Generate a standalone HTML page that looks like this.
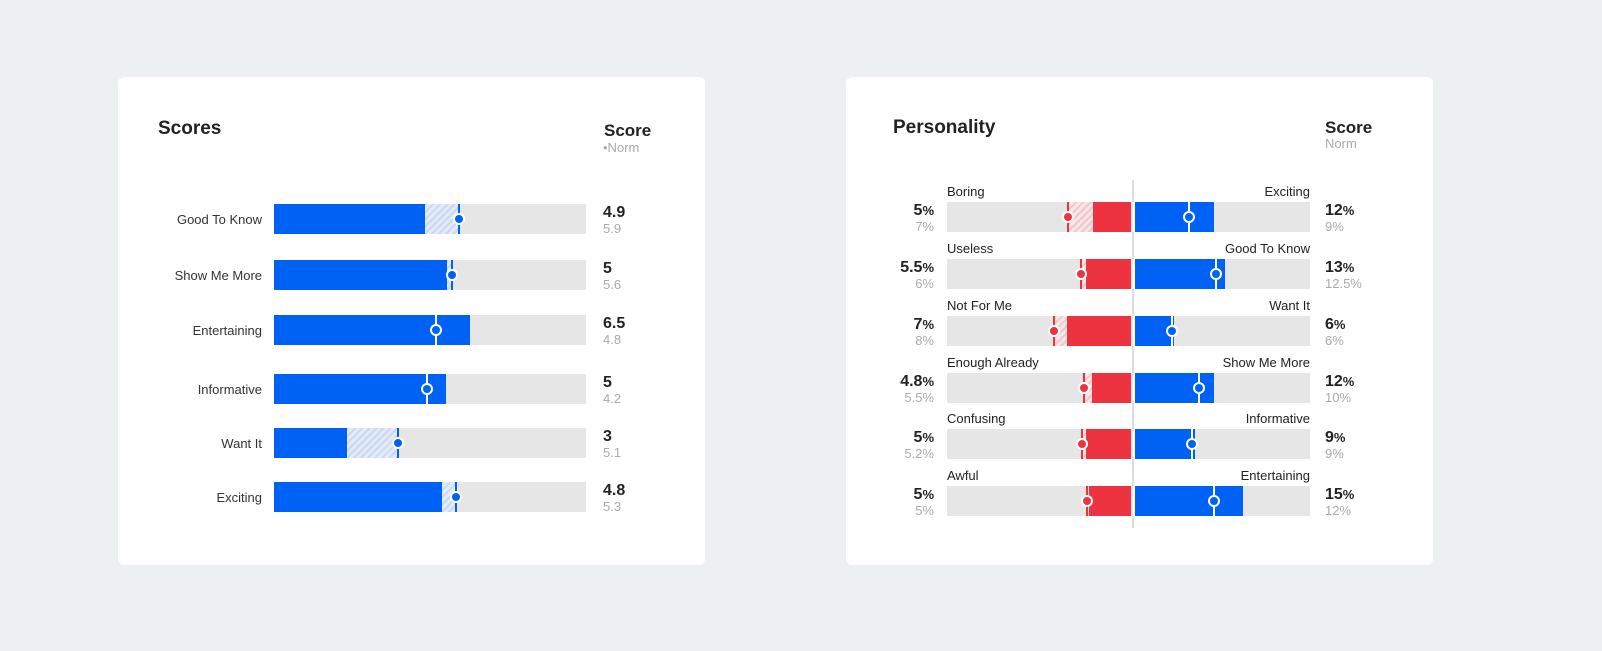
<!DOCTYPE html><html><head><style>
body{margin:0;width:1602px;height:651px;background:#edf0f1;font-family:"Liberation Sans",sans-serif;position:relative;overflow:hidden}
.card{position:absolute;background:#fff;border-radius:6px;top:77px;width:587px;height:488px}
.a{position:absolute}
.t{font-weight:bold;font-size:19px;color:#222}
.bar{position:absolute;height:30px;background:#e6e6e6}
.bl{position:absolute;top:0;height:30px;background:#0062f5}
.rd{position:absolute;top:0;height:30px;background:#ee3340}
.hb{position:absolute;top:0;height:30px;background:repeating-linear-gradient(135deg,#c9d8f2 0 2px,#e3ebf8 2px 5px)}
.hr{position:absolute;top:0;height:30px;background:repeating-linear-gradient(135deg,#f1c6c9 0 2px,#f9e6e7 2px 5px)}
.ln{position:absolute;top:0;width:2px;height:30px;margin-left:-1px}
.dot{position:absolute;top:9px;width:8px;height:8px;border-radius:50%;margin-left:-6px;border:2px solid #fff}
.lab{position:absolute;font-size:13px;color:#333;text-align:right;width:150px}
.v{position:absolute;font-size:16px;font-weight:bold;color:#222}
.n{position:absolute;font-size:13px;color:#aaa}
.pl{position:absolute;font-size:13px;color:#222}
.v small{font-size:13px}
</style></head><body>
<div class="card" style="left:118px"></div>
<div class="card" style="left:846px"></div>
<div class="a t" style="left:158px;top:118px">Scores</div>
<div class="a" style="left:604px;top:121px;font-weight:bold;font-size:17px;color:#222">Score</div>
<div class="a" style="left:603px;top:140px;font-size:13px;color:#aaa">&#8226;Norm</div>
<div class="a t" style="left:893px;top:117px">Personality</div>
<div class="a" style="left:1325px;top:118px;font-weight:bold;font-size:17px;color:#222">Score</div>
<div class="a" style="left:1325px;top:136px;font-size:13px;color:#aaa">Norm</div>
<div class="a" style="left:1132px;top:180px;width:2px;height:348px;background:#ddd"></div>
<div id="L"></div><div id="R"></div>
<script>
var L=[["Good To Know",204,425,459,1,"4.9","5.9"],["Show Me More",260,447,452,1,"5","5.6"],["Entertaining",315,470,436,0,"6.5","4.8"],["Informative",374,446,427,0,"5","4.2"],["Want It",428,347,398,1,"3","5.1"],["Exciting",482,442,456,1,"4.8","5.3"]];
var h="";
L.forEach(function(r){var y=r[1],x0=274;
h+='<div class="lab" style="left:112px;top:'+(y+8)+'px">'+r[0]+'</div>';
h+='<div class="bar" style="left:274px;top:'+y+'px;width:312px">';
h+='<div class="bl" style="left:0;width:'+(r[2]-x0)+'px"></div>';
if(r[3]>r[2])h+='<div class="hb" style="left:'+(r[2]-x0)+'px;width:'+(r[3]-r[2])+'px"></div>';
var out=r[3]>=r[2];
h+='<div class="ln" style="left:'+(r[3]-x0)+'px;background:'+(out?'#0062f5':'#fff')+'"></div>';
h+='<div class="dot" style="left:'+(r[3]-x0)+'px;background:#0062f5"></div></div>';
h+='<div class="v" style="left:603px;top:'+(y+0)+'px">'+r[5]+'</div><div class="n" style="left:603px;top:'+(y+17)+'px">'+r[6]+'</div>';});
document.getElementById("L").innerHTML=h;
var R=[["Boring","Exciting",202,1093,1068,1214,1189,"5","7%","12","9%"],["Useless","Good To Know",259,1086,1081,1225,1216,"5.5","6%","13","12.5%"],["Not For Me","Want It",316,1067,1054,1174,1172,"7","8%","6","6%"],["Enough Already","Show Me More",373,1092,1084,1214,1199,"4.8","5.5%","12","10%"],["Confusing","Informative",429,1086,1082,1195,1192,"5","5.2%","9","9%"],["Awful","Entertaining",486,1089,1087,1243,1214,"5","5%","15","12%"]];
h="";
R.forEach(function(r){var y=r[2],x0=947;
h+='<div class="pl" style="left:947px;top:'+(y-18)+'px">'+r[0]+'</div>';
h+='<div class="pl" style="left:1110px;width:200px;text-align:right;top:'+(y-18)+'px">'+r[1]+'</div>';
h+='<div class="bar" style="left:947px;top:'+y+'px;width:363px">';
h+='<div class="rd" style="left:'+(r[3]-x0)+'px;width:'+(1131-r[3])+'px"></div>';
if(r[4]<r[3])h+='<div class="hr" style="left:'+(r[4]-x0)+'px;width:'+(r[3]-r[4])+'px"></div>';
h+='<div class="ln" style="left:'+(r[4]-x0)+'px;background:#ee3340"></div>';
h+='<div class="dot" style="left:'+(r[4]-x0)+'px;background:#ee3340"></div>';
h+='<div style="position:absolute;top:0;height:30px;left:186px;width:2px;background:#fff"></div>';
h+='<div class="bl" style="left:188px;width:'+(r[5]-1135)+'px"></div>';
h+='<div class="ln" style="left:'+(r[6]-x0)+'px;background:#fff"></div>';
h+='<div class="dot" style="left:'+(r[6]-x0)+'px;background:#0062f5"></div></div>';
h+='<div class="v" style="left:830px;width:104px;text-align:right;top:'+y+'px">'+r[7]+'<small>%</small></div><div class="n" style="left:830px;width:104px;text-align:right;top:'+(y+17)+'px">'+r[8]+'</div>';
h+='<div class="v" style="left:1325px;top:'+y+'px">'+r[9]+'<small>%</small></div><div class="n" style="left:1325px;top:'+(y+17)+'px">'+r[10]+'</div>';});
document.getElementById("R").innerHTML=h;
</script>
</body></html>
